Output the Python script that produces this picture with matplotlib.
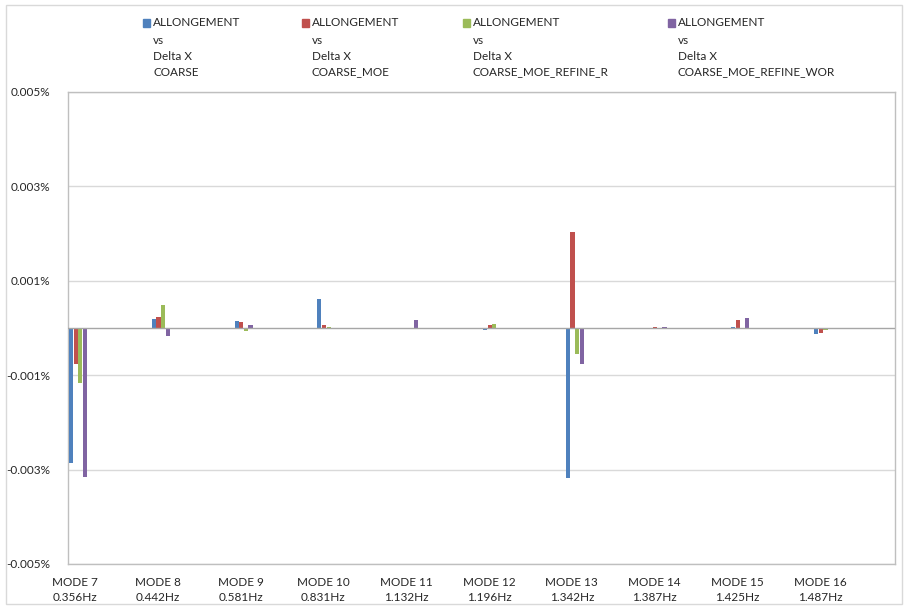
import numpy as np
import matplotlib
matplotlib.use("Agg")
import matplotlib.pyplot as plt
from matplotlib.patches import Rectangle

plt.rcParams['font.family'] = ['Lato', 'DejaVu Sans']

# data (values in %)
modes = ["MODE 7", "MODE 8", "MODE 9", "MODE 10", "MODE 11",
         "MODE 12", "MODE 13", "MODE 14", "MODE 15", "MODE 16"]
freqs = ["0.356Hz", "0.442Hz", "0.581Hz", "0.831Hz", "1.132Hz",
         "1.196Hz", "1.342Hz", "1.387Hz", "1.425Hz", "1.487Hz"]
series_names = ["COARSE", "COARSE_MOE", "COARSE_MOE_REFINE_R", "COARSE_MOE_REFINE_WOR"]
coarse = [-0.00287, 0.00020, 0.00014, 0.00061, 0.0, -0.00004, -0.00317, -0.00003, 0.00003, -0.00013]
coarse_moe = [-0.00077, 0.00024, 0.00012, 0.00007, 0.0, 0.00007, 0.00204, 0.00003, 0.00018, -0.00010]
refine_r = [-0.00116, 0.00049, -0.00006, 0.00003, 0.0, 0.00009, -0.00055, 0.0, 0.0, -0.00005]
refine_wor = [-0.00316, -0.00017, 0.00007, 0.0, 0.00018, 0.0, -0.00077, 0.00003, 0.00022, -0.00003]
yticks = [-0.005, -0.003, -0.001, 0.001, 0.003, 0.005]
ytick_labels = ["-0.005%", "-0.003%", "-0.001%", "0.001%", "0.003%", "0.005%"]

colors = ["#4F81BD", "#C0504D", "#9BBB59", "#8064A2"]
all_series = [coarse, coarse_moe, refine_r, refine_wor]
text_col = "#262626"

W, H = 907, 607
fig = plt.figure(figsize=(W / 100, H / 100), dpi=100)
ax = fig.add_axes([68 / W, 1 - 564 / H, (895 - 68) / W, (564 - 92) / H])

x = np.arange(len(modes))
step = 0.0556
for k, (vals, c) in enumerate(zip(all_series, colors)):
    ax.bar(x + 0.035 + (k - 1.5) * step, vals, width=0.05, color=c, zorder=3)

ax.set_xlim(-0.085, 9.903)
ax.set_ylim(-0.005, 0.005)
ax.set_yticks(yticks)
ax.set_yticklabels(ytick_labels)
ax.yaxis.grid(True, color="#d9d9d9", lw=1, zorder=0)
ax.axhline(0, color="#a6a6a6", lw=1, zorder=4)
ax.set_xticks(x)
ax.set_xticklabels([m + "\n" + f for m, f in zip(modes, freqs)], linespacing=1.45)
ax.tick_params(axis="both", length=0, labelsize=8.5, colors=text_col)
ax.tick_params(axis="y", pad=13)
ax.tick_params(axis="x", pad=9)
for s in ax.spines.values():
    s.set_color("#bfbfbf")
    s.set_linewidth(1)

# legend (one column per series, square at first line)
leg_x = [143, 302, 463, 668]
line_y = [23, 40, 56, 72]
for lx, name, c in zip(leg_x, series_names, colors):
    fig.patches.append(Rectangle((lx / W, 1 - 27 / H), 7 / W, 8 / H,
                                 transform=fig.transFigure, color=c))
    for ly, t in zip(line_y, ["ALLONGEMENT", "vs", "Delta X", name]):
        fig.text((lx + 10) / W, 1 - ly / H, t, fontsize=8.5, color=text_col,
                 va="center", ha="left")

# chart border
fig.patches.append(Rectangle((6 / W, 1 - 604 / H), 896 / W, 599 / H,
                             transform=fig.transFigure, fill=False,
                             edgecolor="#d9d9d9", lw=1))

fig.savefig("out.png", dpi=100)
